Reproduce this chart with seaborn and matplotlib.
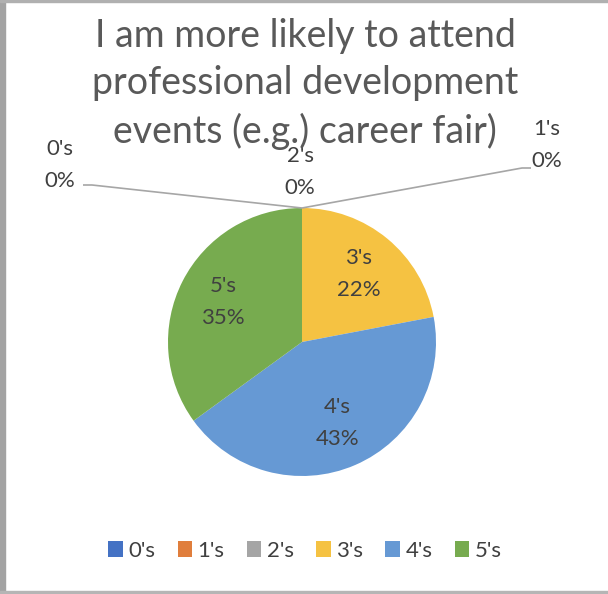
import matplotlib
matplotlib.use("Agg")
import matplotlib.pyplot as plt
import seaborn as sns
import numpy as np
from matplotlib.patches import Rectangle

# ---- data ----
categories = ["0's", "1's", "2's", "3's", "4's", "5's"]
percent_values = [0, 0, 0, 22, 43, 35]
colors = ["#4472C4", "#E07E3C", "#A5A5A5", "#F5C242", "#6699D4", "#77AB4F"]
title_text = "I am more likely to attend\nprofessional development\nevents (e.g.) career fair)"

sns.set_theme(style="white")
plt.rcParams['font.family'] = ['Lato', 'DejaVu Sans']

W, H = 608, 594
fig = plt.figure(figsize=(W / 100, H / 100), dpi=100)
fig.patch.set_facecolor("white")
ax = fig.add_axes([0, 0, 1, 1])

cx, cy, R = 302, H - 342, 134
wedges, _ = ax.pie(percent_values, colors=colors, startangle=90, counterclock=False,
                   center=(cx, cy), radius=R, frame=True,
                   wedgeprops=dict(linewidth=0))
ax.set_xlim(0, W)
ax.set_ylim(0, H)
ax.set_aspect("equal")
ax.axis("off")

txt_color = "#404040"
lab_fs = 16

# inside labels for non-zero slices
for w, cat, v in zip(wedges, categories, percent_values):
    if v <= 0:
        continue
    ang = np.deg2rad((w.theta1 + w.theta2) / 2)
    r = 0.66 * R
    x = cx + r * np.cos(ang)
    y = cy + r * np.sin(ang)
    ax.text(x, y, f"{cat}\n{v}%", ha="center", va="center", fontsize=lab_fs,
            color=txt_color, linespacing=1.75)

# outside labels for zero slices
top = (cx, cy + R)
outer = {
    "0's": (60, H - 165),
    "1's": (547, H - 145),
    "2's": (300, H - 172),
}
for cat, v in zip(categories, percent_values):
    if v > 0:
        continue
    x, y = outer[cat]
    ax.text(x, y, f"{cat}\n{v}%", ha="center", va="center", fontsize=lab_fs,
            color=txt_color, linespacing=1.75)

# leader lines
lc = "#A6A6A6"
ax.plot([83, 92, top[0]], [H - 185, H - 185, top[1]], color=lc, lw=1.2, solid_capstyle="butt")
ax.plot([top[0], 522, 531], [top[1], H - 168, H - 168], color=lc, lw=1.2, solid_capstyle="butt")

# title
fig.text(305 / W, 1 - 84 / H, title_text, ha="center", va="center", fontsize=27,
         color="#595959", linespacing=1.38)

# legend
leg = fig.legend(wedges, categories, loc="center", bbox_to_anchor=(305 / W, 1 - 551 / H),
                 ncol=6, frameon=False, fontsize=lab_fs, handlelength=0.65, handleheight=0.75,
                 handletextpad=0.25, columnspacing=1.0, labelcolor=txt_color)

# screenshot frame
fig.patches.append(Rectangle((0, 0), 5 / W, 1, transform=fig.transFigure, color="#A3A3A3", zorder=10))
fig.patches.append(Rectangle((0, 1 - 2 / H), 1, 2 / H, transform=fig.transFigure, color="#B0B0B0", zorder=10))
fig.patches.append(Rectangle((0, 0), 1, 3 / H, transform=fig.transFigure, color="#B5B5B5", zorder=10))

fig.savefig("out.png", dpi=100, facecolor="white")
